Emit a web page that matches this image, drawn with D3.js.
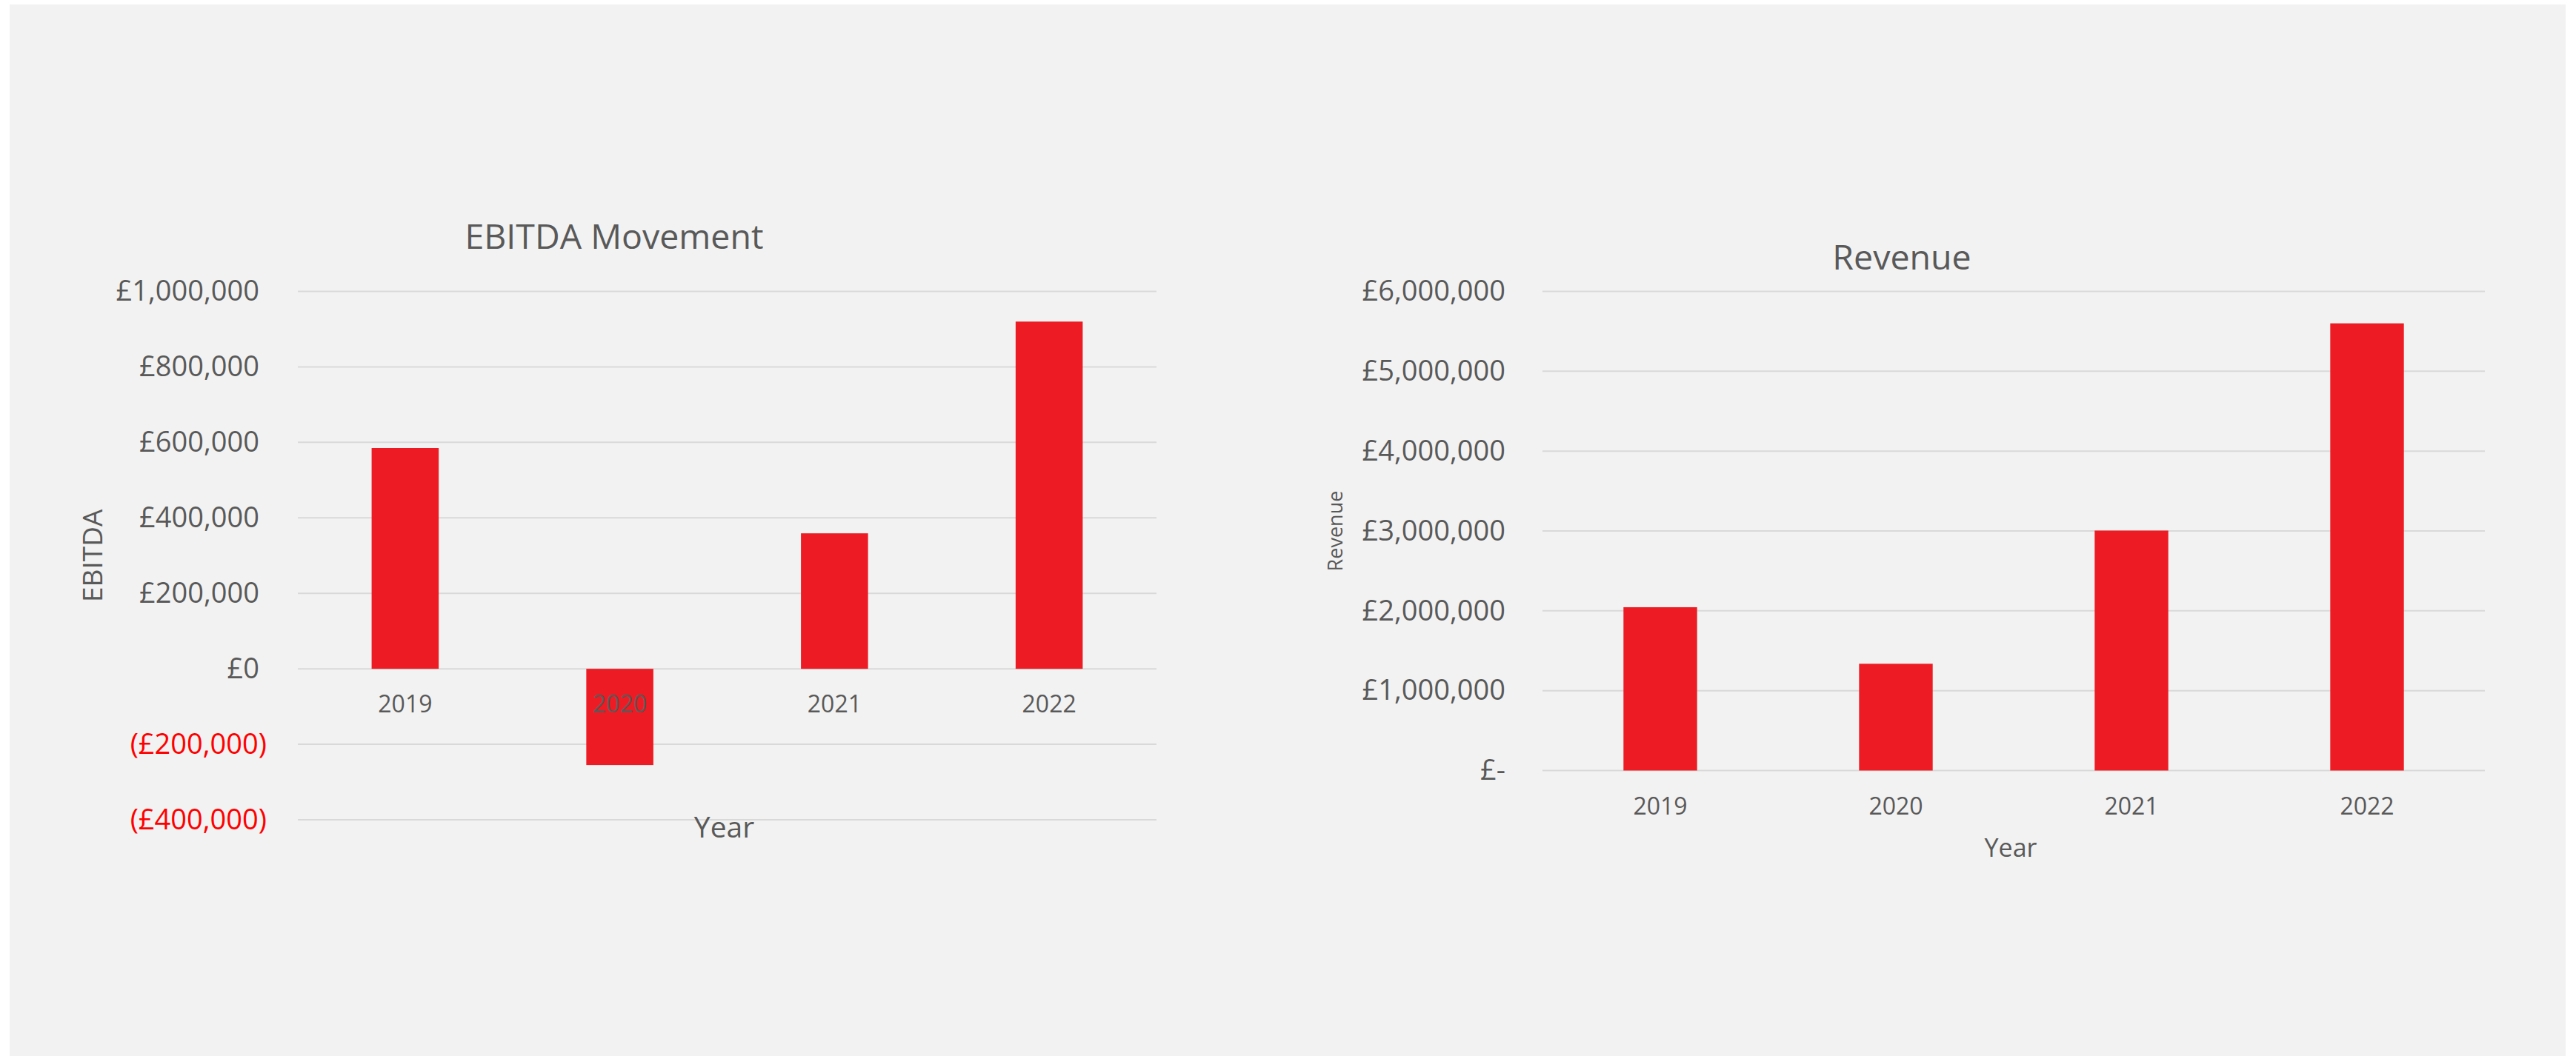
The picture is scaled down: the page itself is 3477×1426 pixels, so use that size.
<!DOCTYPE html>
<html>
<head>
<meta charset="utf-8">
<script src="https://cdn.jsdelivr.net/npm/d3@7"></script>
<style>
  body { margin: 0; background: #ffffff; }
  text { font-family: "Open Sans", sans-serif; }
</style>
</head>
<body>
<div id="graph"></div>
<script>
const years = ['2019', '2020', '2021', '2022'];
const ebitdaValues = [585000, -255000, 359000, 920000];
const revenueValues = [2045000, 1337000, 3005000, 5600000];
const ebitdaTicks = [-400000, -200000, 0, 200000, 400000, 600000, 800000, 1000000];
const revenueTicks = [0, 1000000, 2000000, 3000000, 4000000, 5000000, 6000000];

const barColor = '#ED1C24';
const textColor = '#595959';
const gridColor = '#D9D9D9';

const width = 3477;
const height = 1426;

const fmt = d3.format(',');

const svg = d3.select('#graph')
  .append('svg')
  .attr('width', width)
  .attr('height', height);

// chart area background
svg.append('rect')
  .attr('x', 13)
  .attr('y', 6)
  .attr('width', 3450)
  .attr('height', 1420)
  .attr('fill', '#F2F2F2');

function drawChart(cfg) {
  const g = svg.append('g');

  const x = d3.scaleBand()
    .domain(years)
    .range([cfg.left, cfg.right])
    .paddingInner(0.6875)
    .paddingOuter(0.6875 / 2);

  const y = d3.scaleLinear()
    .domain(cfg.domain)
    .range([cfg.bottom, cfg.top]);

  // gridlines
  g.append('g')
    .selectAll('line')
    .data(cfg.ticks)
    .enter()
    .append('line')
    .attr('x1', cfg.left)
    .attr('x2', cfg.right)
    .attr('y1', d => y(d))
    .attr('y2', d => y(d))
    .attr('stroke', gridColor)
    .attr('stroke-width', 2);

  // bars
  g.append('g')
    .selectAll('rect')
    .data(cfg.values)
    .enter()
    .append('rect')
    .attr('x', (d, i) => x(years[i]))
    .attr('width', x.bandwidth())
    .attr('y', d => y(Math.max(0, d)))
    .attr('height', d => Math.abs(y(d) - y(0)))
    .attr('fill', barColor);

  // y axis labels
  const yAxis = g.append('g')
    .attr('transform', `translate(${cfg.left},0)`)
    .call(d3.axisLeft(y)
      .tickValues(cfg.ticks)
      .tickSize(0)
      .tickPadding(cfg.left - cfg.labelRight)
      .tickFormat(cfg.format));
  yAxis.select('.domain').remove();
  yAxis.selectAll('text')
    .attr('font-family', '"Open Sans", sans-serif')
    .attr('font-size', 38)
    .attr('fill', d => d < 0 ? '#FF0000' : textColor)
    .attr('dx', d => (cfg.parens && d >= 0) ? -10 : 0);

  // x axis labels
  const xAxis = g.append('g')
    .attr('transform', `translate(0,${y(0)})`)
    .call(d3.axisBottom(x).tickSize(0));
  xAxis.select('.domain').remove();
  xAxis.selectAll('text')
    .attr('font-family', '"Open Sans", sans-serif')
    .attr('font-size', 32)
    .attr('fill', textColor)
    .attr('y', 48)
    .attr('dy', '0.35em');

  // title
  g.append('text')
    .attr('x', cfg.titleX)
    .attr('y', cfg.titleY)
    .attr('text-anchor', 'middle')
    .attr('font-size', 46.5)
    .attr('fill', textColor)
    .text(cfg.title);

  // y axis title
  g.append('text')
    .attr('transform', `translate(${cfg.yTitleX},${(cfg.top + cfg.bottom) / 2}) rotate(-90)`)
    .attr('text-anchor', 'middle')
    .attr('dy', '0.35em')
    .attr('font-size', cfg.yTitleSize)
    .attr('fill', textColor)
    .text(cfg.yTitle);

  // x axis title
  g.append('text')
    .attr('x', (cfg.left + cfg.right) / 2 - 4)
    .attr('y', cfg.xTitleY)
    .attr('text-anchor', 'middle')
    .attr('font-size', cfg.xTitleSize)
    .attr('fill', textColor)
    .text('Year');
}

drawChart({
  values: ebitdaValues,
  ticks: ebitdaTicks,
  domain: [-400000, 1000000],
  left: 402, right: 1561, top: 393.5, bottom: 1107,
  labelRight: 360,
  parens: true,
  format: d => d < 0 ? `(£${fmt(-d)})` : `£${fmt(d)}`,
  title: 'EBITDA Movement', titleX: 829, titleY: 336,
  yTitle: 'EBITDA', yTitleX: 125, yTitleSize: 37,
  xTitleY: 1131, xTitleSize: 39,
});

drawChart({
  values: revenueValues,
  ticks: revenueTicks,
  domain: [0, 6000000],
  left: 2082, right: 3354, top: 393.5, bottom: 1040.5,
  labelRight: 2032,
  parens: false,
  format: d => d === 0 ? '£-' : `£${fmt(d)}`,
  title: 'Revenue', titleX: 2567, titleY: 364,
  yTitle: 'Revenue', yTitleX: 1803, yTitleSize: 27,
  xTitleY: 1157, xTitleSize: 34,
});
</script>
</body>
</html>
